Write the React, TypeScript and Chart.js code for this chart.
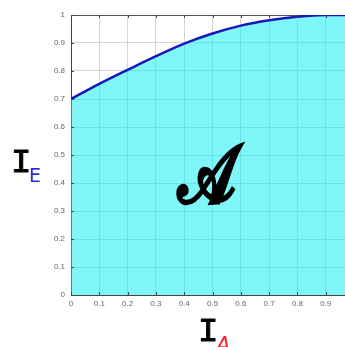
import React, { useEffect, useRef } from "react";
import { Chart, registerables } from "chart.js";

Chart.register(...registerables);

const xValues = [0, 0.1, 0.2, 0.3, 0.4, 0.5, 0.6, 0.7, 0.8, 0.9, 1.0];
const yValues = [0.7, 0.754, 0.804, 0.853, 0.898, 0.934, 0.962, 0.981, 0.994, 1.0, 1.0];
const yTicks = [0, 0.1, 0.2, 0.3, 0.4, 0.5, 0.6, 0.7, 0.8, 0.9, 1];
const xTicks = [0, 0.1, 0.2, 0.3, 0.4, 0.5, 0.6, 0.7, 0.8, 0.9];
const areaLabel = "𝒜";
const yTitleMain = "I";
const yTitleSub = "E";
const xTitleMain = "I";
const xTitleSub = "A";

const annotations = {
  id: "annotations",
  afterDraw(chart: any) {
    const ctx = chart.ctx;
    const { chartArea, scales } = chart;
    ctx.save();
    // inward tick marks
    ctx.strokeStyle = "#444";
    ctx.lineWidth = 1;
    ctx.beginPath();
    for (const v of xTicks) {
      const px = Math.round(scales.x.getPixelForValue(v)) + 0.5;
      ctx.moveTo(px, chartArea.bottom);
      ctx.lineTo(px, chartArea.bottom - 3);
      ctx.moveTo(px, chartArea.top);
      ctx.lineTo(px, chartArea.top + 3);
    }
    for (const v of yTicks) {
      const py = Math.round(scales.y.getPixelForValue(v)) + 0.5;
      ctx.moveTo(chartArea.left, py);
      ctx.lineTo(chartArea.left + 3, py);
    }
    ctx.stroke();

    // big script A (horizontally condensed)
    ctx.save();
    const ax = 207;
    const ay = 202;
    ctx.translate(ax, ay);
    ctx.scale(0.76, 1);
    ctx.fillStyle = "#000";
    ctx.strokeStyle = "#000";
    ctx.lineWidth = 2;
    ctx.textAlign = "center";
    ctx.textBaseline = "alphabetic";
    ctx.font = "bold 80px 'DejaVu Serif', serif";
    ctx.fillText(areaLabel, 0, 0);
    ctx.strokeText(areaLabel, 0, 0);
    ctx.restore();

    // y title
    ctx.textAlign = "left";
    ctx.textBaseline = "alphabetic";
    ctx.font = "34px 'Liberation Mono', 'DejaVu Sans Mono', monospace";
    ctx.fillStyle = "#000";
    ctx.strokeStyle = "#000";
    ctx.lineWidth = 1;
    ctx.fillText(yTitleMain, 11, 172);
    ctx.strokeText(yTitleMain, 11, 172);
    ctx.font = "19px 'DejaVu Sans', sans-serif";
    ctx.fillStyle = "#2a2ad8";
    ctx.fillText(yTitleSub, 29, 182);

    // x title
    ctx.font = "34px 'Liberation Mono', 'DejaVu Sans Mono', monospace";
    ctx.fillStyle = "#000";
    ctx.fillText(xTitleMain, 198, 341);
    ctx.strokeText(xTitleMain, 198, 341);
    ctx.font = "italic 21px 'DejaVu Sans', sans-serif";
    ctx.fillStyle = "#ff1a2a";
    ctx.fillText(xTitleSub, 216, 352);
    ctx.restore();
  },
};

export default function App() {
  const ref = useRef<HTMLCanvasElement | null>(null);
  useEffect(() => {
    document.body.style.margin = "0";
    const canvas = ref.current!;
    const chart = new Chart(canvas, {
      type: "line",
      data: {
        datasets: [
          {
            data: xValues.map((x, i) => ({ x, y: yValues[i] })),
            borderColor: "#1818b8",
            borderWidth: 2.5,
            backgroundColor: "rgba(0, 240, 246, 0.5)",
            fill: "start",
            pointRadius: 0,
            cubicInterpolationMode: "monotone",
          },
        ],
      },
      plugins: [annotations],
      options: {
        responsive: false,
        animation: false,
        layout: { padding: { top: 15, right: 0, left: 0, bottom: 0 } },
        plugins: { legend: { display: false }, tooltip: { enabled: false } },
        scales: {
          x: {
            type: "linear",
            min: 0,
            max: 0.968,
            afterBuildTicks: (s: any) => {
              s.ticks = xTicks.map((v) => ({ value: v }));
            },
            afterFit: (s: any) => {
              s.height = 52;
            },
            grid: { color: "#d6d6d6", drawTicks: false },
            border: { color: "#444", width: 1 },
            ticks: {
              color: "#666",
              font: { size: 8, family: "'Liberation Sans', Arial, sans-serif" },
              padding: 4,
              maxRotation: 0,
              callback: (v: any) => String(Math.round(Number(v) * 10) / 10),
            },
          },
          y: {
            type: "linear",
            min: 0,
            max: 1,
            afterBuildTicks: (s: any) => {
              s.ticks = yTicks.map((v) => ({ value: v }));
            },
            afterFit: (s: any) => {
              s.width = 71;
            },
            grid: {
              color: (c: any) => (c.tick && c.tick.value === 1 ? "#555" : "#d6d6d6"),
              drawTicks: false,
            },
            border: { color: "#444", width: 1 },
            ticks: {
              color: "#666",
              font: { size: 8, family: "'Liberation Sans', Arial, sans-serif" },
              padding: 6,
              callback: (v: any) => String(Math.round(Number(v) * 10) / 10),
            },
          },
        },
      },
    } as any);
    return () => chart.destroy();
  }, []);
  return <canvas ref={ref} width={345} height={347} style={{ display: "block" }} />;
}
